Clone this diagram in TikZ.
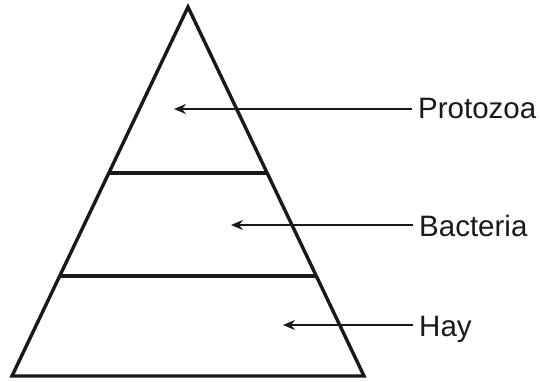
\documentclass[tikz,border=0pt]{standalone}
\usepackage{fontspec}
\setmainfont{Liberation Sans}
\usetikzlibrary{arrows.meta}
\tikzset{
  edge/.style={line width=3.4pt, line join=miter, color=black!90},
  pointer/.style={line width=2pt, color=black!90, -{Stealth[length=12pt,width=10pt,inset=4pt]}},
  lab/.style={anchor=west, inner sep=0pt, text height=21pt, text depth=0pt, font=\fontsize{29.5}{31}\selectfont, text=black!90}
}
\begin{document}
\begin{tikzpicture}[x=1pt,y=-1pt]
\useasboundingbox (0,0) rectangle (540,381);
\coordinate (apex) at (188,7);
\coordinate (bl) at (12,376);
\coordinate (br) at (364,376);
\draw[edge] (apex) -- (bl) -- (br) -- cycle;
\coordinate (l1a) at (109,173);
\coordinate (l1b) at (267,173);
\coordinate (l2a) at (60,276);
\coordinate (l2b) at (316,276);
\draw[edge] (l1a) -- (l1b);
\draw[edge] (l2a) -- (l2b);
\node[lab] (tp) at (418,108) {Protozoa};
\node[lab] (tb) at (419,226) {Bacteria};
\node[lab] (th) at (419,326) {Hay};
\coordinate (ap) at (174,109);
\coordinate (ab) at (231,225);
\coordinate (ah) at (283,325);
\draw[pointer] ([xshift=-6pt]tp.west |- ap) -- (ap);
\draw[pointer] ([xshift=-6pt]tb.west |- ab) -- (ab);
\draw[pointer] ([xshift=-6pt]th.west |- ah) -- (ah);
\end{tikzpicture}
\end{document}
